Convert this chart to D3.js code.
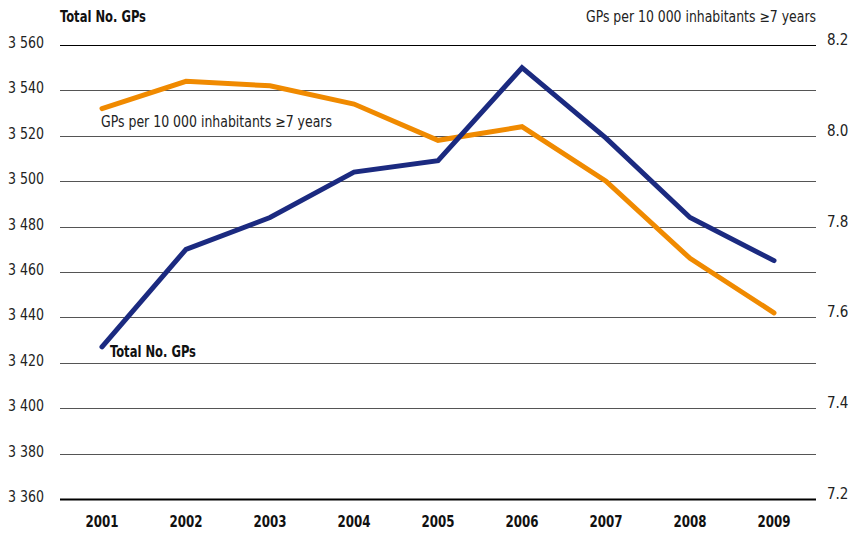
<!DOCTYPE html>
<html><head><meta charset="utf-8">
<script src="https://cdn.jsdelivr.net/npm/d3@7"></script>
<style>
body{margin:0;background:#fff;}
svg{display:block;font-family:"Liberation Sans Narrow","Arial Narrow","DejaVu Sans Condensed",sans-serif;}
</style></head>
<body><svg id="c" width="850" height="533"></svg>
<script>
const years = ["2001","2002","2003","2004","2005","2006","2007","2008","2009"];
const totalGPs = [3427, 3470, 3484, 3504, 3509, 3550, 3519, 3484, 3465];
const gpsPer10000 = [8.06, 8.12, 8.11, 8.07, 7.99, 8.02, 7.90, 7.73, 7.61];
const leftTicks = [3360, 3380, 3400, 3420, 3440, 3460, 3480, 3500, 3520, 3540, 3560];
const rightTicks = [7.2, 7.4, 7.6, 7.8, 8.0, 8.2];

const svg = d3.select("#c");
const x0 = 60, x1 = 816, yTop = 45, yBot = 499;
const x = d3.scalePoint().domain(years).range([x0, x1]).padding(0.5);
const yL = d3.scaleLinear().domain([3360, 3560]).range([yBot, yTop]);
const yR = d3.scaleLinear().domain([7.2, 8.2]).range([yBot, yTop]);
const fmtL = d => d3.format(",")(d).replace(",", " ");

// gridlines
svg.append("g").selectAll("line").data(leftTicks).join("line")
  .attr("x1", x0).attr("x2", x1)
  .attr("y1", d => Math.round(yL(d)) + 0.5).attr("y2", d => Math.round(yL(d)) + 0.5)
  .attr("stroke", d => (d === 3560 || d === 3360) ? "#000" : "#555")
  .attr("stroke-width", d => d === 3360 ? 2 : 1);

// left axis labels
svg.append("g").selectAll("text").data(leftTicks).join("text")
  .attr("x", 44).attr("y", d => yL(d) + 3)
  .attr("text-anchor", "end").attr("font-size", 15).attr("fill", "#222")
  .attr("textLength", 36).attr("lengthAdjust", "spacingAndGlyphs")
  .text(fmtL);

// right axis labels
svg.append("g").selectAll("text").data(rightTicks).join("text")
  .attr("x", 827).attr("y", d => yR(d))
  .attr("text-anchor", "start").attr("font-size", 15).attr("fill", "#222")
  .text(d => d3.format(".1f")(d));

// x labels
svg.append("g").selectAll("text").data(years).join("text")
  .attr("x", d => x(d)).attr("y", 527)
  .attr("text-anchor", "middle").attr("font-size", 15).attr("font-weight", "bold").attr("fill", "#111")
  .attr("textLength", 33).attr("lengthAdjust", "spacingAndGlyphs")
  .text(d => d);

// lines
const lineL = d3.line().x((d, i) => x(years[i])).y(d => yL(d));
const lineR = d3.line().x((d, i) => x(years[i])).y(d => yR(d));
svg.append("path").attr("d", lineR(gpsPer10000)).attr("fill", "none")
  .attr("stroke", "#F08A00").attr("stroke-width", 5).attr("stroke-linejoin", "miter").attr("stroke-linecap", "round");
svg.append("path").attr("d", lineL(totalGPs)).attr("fill", "none")
  .attr("stroke", "#1B2A80").attr("stroke-width", 5).attr("stroke-linejoin", "miter").attr("stroke-linecap", "round");

// titles
svg.append("text").attr("x", 60).attr("y", 22).attr("font-size", 15).attr("font-weight", "bold").attr("fill", "#111")
  .attr("textLength", 86).attr("lengthAdjust", "spacingAndGlyphs").text("Total No. GPs");
svg.append("text").attr("x", 586).attr("y", 22).attr("font-size", 15).attr("fill", "#222")
  .attr("textLength", 230).attr("lengthAdjust", "spacingAndGlyphs").text("GPs per 10 000 inhabitants ≥7 years");
// inline labels
svg.append("text").attr("x", 101).attr("y", 127).attr("font-size", 15).attr("fill", "#222")
  .attr("textLength", 231).attr("lengthAdjust", "spacingAndGlyphs").text("GPs per 10 000 inhabitants ≥7 years");
svg.append("text").attr("x", 110).attr("y", 357).attr("font-size", 15).attr("font-weight", "bold").attr("fill", "#111")
  .attr("textLength", 86).attr("lengthAdjust", "spacingAndGlyphs").text("Total No. GPs");
</script></body></html>
